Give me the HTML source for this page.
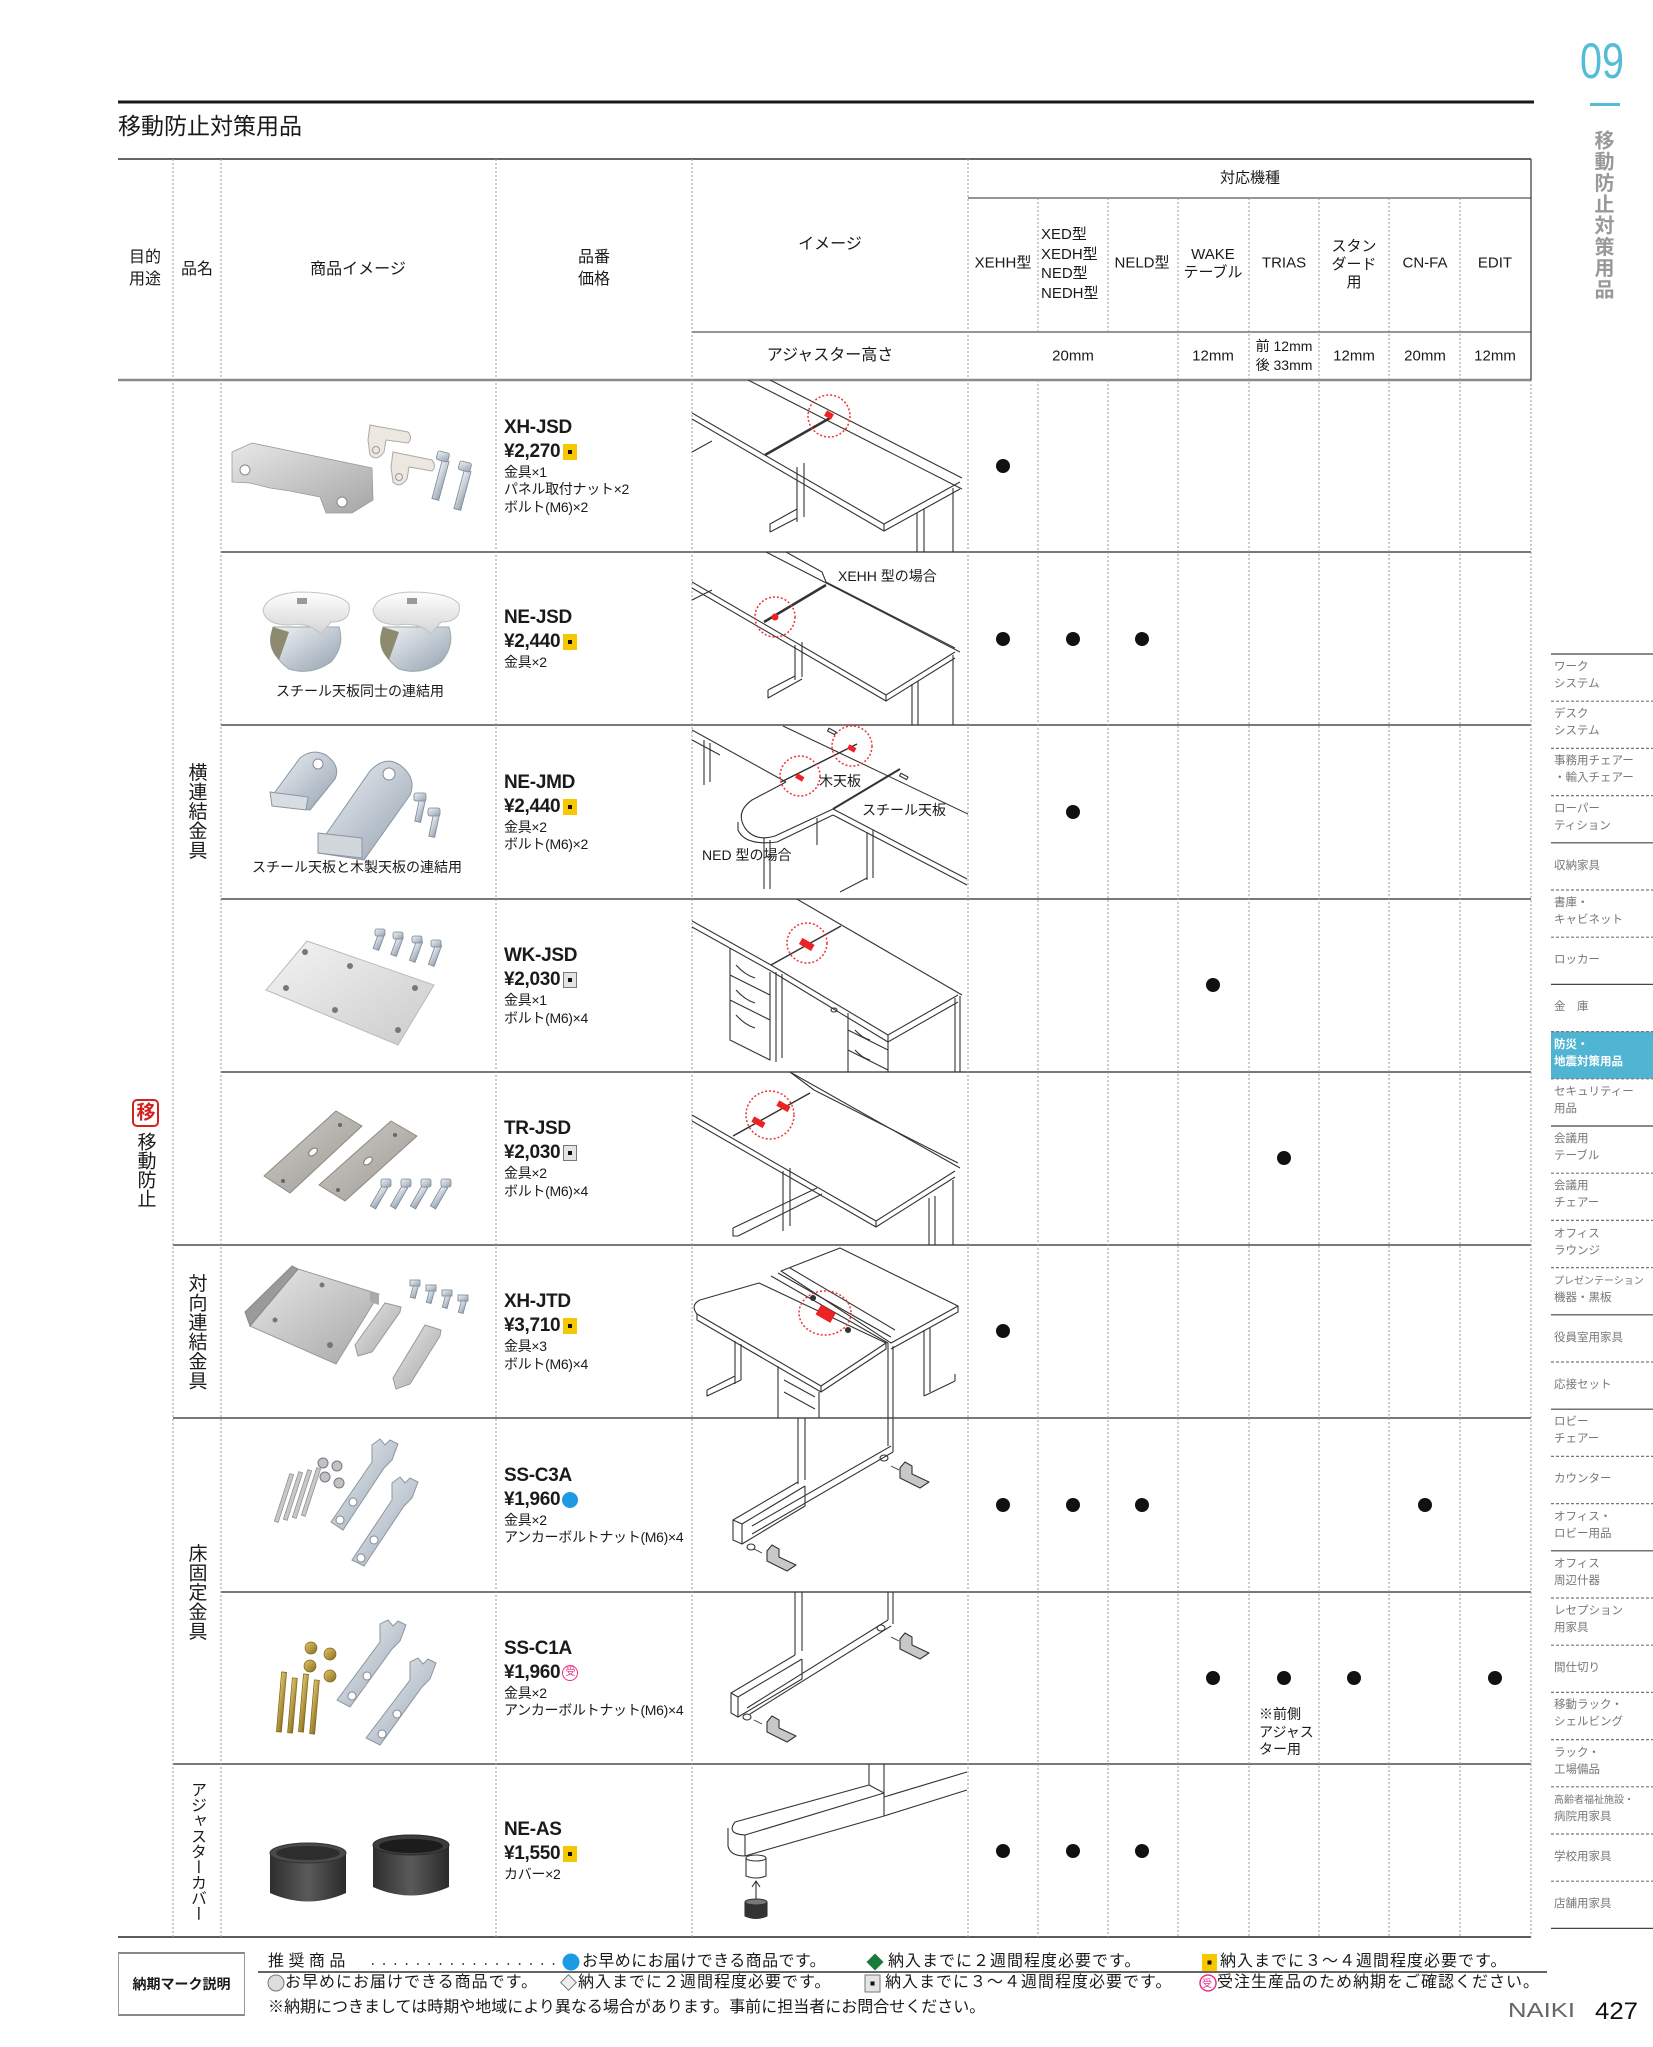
<!DOCTYPE html>
<html><head><meta charset="utf-8">
<style>
*{margin:0;padding:0;box-sizing:border-box}
body{width:1653px;height:2047px;position:relative;background:#fff;font-family:"Liberation Sans","Noto Sans CJK JP",sans-serif;color:#1a1a1a;overflow:hidden}
.a{position:absolute;white-space:nowrap;line-height:1}
.c{transform:translate(-50%,-50%);text-align:center}
.h{font-size:16px}
.k{font-size:15px}
.l{transform:translateY(-50%)}
.v{position:absolute;writing-mode:vertical-rl;transform:translate(-50%,-50%);white-space:nowrap;line-height:1}
.pb{position:absolute;left:504px;width:186px;display:flex;flex-direction:column;justify-content:center}
.code{font-weight:bold;font-size:19px;line-height:24px;letter-spacing:-0.3px}
.price{font-weight:bold;font-size:19px;line-height:24px;letter-spacing:-0.3px;display:flex;align-items:center}
.d{font-size:14px;line-height:17.5px;letter-spacing:-0.3px}
.my,.mg{display:inline-block;width:14px;height:16px;margin-left:3px;position:relative}
.my{background:#f7c800}
.mg{background:#e4e4e4;border:1px solid #777}
.my:after,.mg:after{content:"";position:absolute;left:50%;top:50%;width:4px;height:4px;margin:-2px 0 0 -2px;background:#111}
.mb{display:inline-block;width:16px;height:16px;border-radius:50%;background:#1d9be2;margin-left:2px}
.mu{display:inline-block;width:16px;height:16px;border-radius:50%;border:1.5px solid #e8318b;color:#e8318b;font-size:10px;line-height:13px;text-align:center;margin-left:2px;font-weight:normal}
.cap{font-size:14px}
.sb{position:absolute;left:1554px;font-size:11.5px;color:#777;line-height:17px;white-space:nowrap}
.ft{position:absolute;font-size:16px;line-height:16px;white-space:nowrap;color:#1a1a1a}
</style></head><body>

<svg width="1653" height="2047" style="position:absolute;left:0;top:0" xmlns="http://www.w3.org/2000/svg">
<defs>
<linearGradient id="gm" x1="0" y1="0" x2="1" y2="1"><stop offset="0" stop-color="#e8e8e8"/><stop offset="1" stop-color="#a6a6a6"/></linearGradient>
<linearGradient id="gz" x1="0" y1="0" x2="1" y2="1"><stop offset="0" stop-color="#f0f3f7"/><stop offset="1" stop-color="#95a2b0"/></linearGradient>
<linearGradient id="gw" x1="0" y1="0" x2="0" y2="1"><stop offset="0" stop-color="#ffffff"/><stop offset="1" stop-color="#d4d4d4"/></linearGradient>
<linearGradient id="gd" x1="0" y1="0" x2="1" y2="0"><stop offset="0" stop-color="#2e2e2e"/><stop offset=".5" stop-color="#5a5a5a"/><stop offset="1" stop-color="#2a2a2a"/></linearGradient>
<linearGradient id="gb" x1="0" y1="0" x2="1" y2="1"><stop offset="0" stop-color="#e2c86a"/><stop offset="1" stop-color="#8a6c1c"/></linearGradient>
<linearGradient id="gp" x1="0" y1="0" x2="1" y2="1"><stop offset="0" stop-color="#f4f4f4"/><stop offset="1" stop-color="#cbcbcb"/></linearGradient>
<linearGradient id="gt" x1="0" y1="0" x2="1" y2="1"><stop offset="0" stop-color="#d2cfca"/><stop offset="1" stop-color="#9b9792"/></linearGradient>
<clipPath id="k1"><rect x="692" y="380" width="276" height="172"/></clipPath>
<clipPath id="k2"><rect x="692" y="552" width="276" height="173"/></clipPath>
<clipPath id="k3"><rect x="692" y="725" width="276" height="174"/></clipPath>
<clipPath id="k4"><rect x="692" y="899" width="276" height="173"/></clipPath>
<clipPath id="k5"><rect x="692" y="1072" width="276" height="173"/></clipPath>
<clipPath id="k6"><rect x="692" y="1245" width="276" height="173"/></clipPath>
<clipPath id="k7"><rect x="692" y="1418" width="276" height="174"/></clipPath>
<clipPath id="k8"><rect x="692" y="1592" width="276" height="172"/></clipPath>
<clipPath id="k9"><rect x="692" y="1764" width="276" height="173"/></clipPath>
</defs>

<!-- top rule & number -->
<line x1="118" y1="102" x2="1534" y2="102" stroke="#1a1a1a" stroke-width="3"/>
<text x="1580" y="78" font-family="Liberation Sans" font-size="50" fill="#55bcd8" textLength="44" lengthAdjust="spacingAndGlyphs">09</text>
<rect x="1590" y="103" width="30" height="3" fill="#55bcd8"/>

<!-- table horizontal lines -->
<g fill="none">
<line x1="118" y1="159" x2="1531" y2="159" stroke="#333" stroke-width="1.5"/>
<line x1="968" y1="198" x2="1531" y2="198" stroke="#555" stroke-width="1.3"/>
<line x1="692" y1="332" x2="1531" y2="332" stroke="#555" stroke-width="1.3"/>
<line x1="118" y1="380" x2="1531" y2="380" stroke="#8a8a8a" stroke-width="2.5"/>
<g stroke="#666" stroke-width="1.8">
<line x1="221" y1="552" x2="1531" y2="552"/>
<line x1="221" y1="725" x2="1531" y2="725"/>
<line x1="221" y1="899" x2="1531" y2="899"/>
<line x1="221" y1="1072" x2="1531" y2="1072"/>
<line x1="173" y1="1245" x2="1531" y2="1245"/>
<line x1="173" y1="1418" x2="1531" y2="1418"/>
<line x1="221" y1="1592" x2="1531" y2="1592"/>
<line x1="173" y1="1764" x2="1531" y2="1764"/>
</g>
<line x1="118" y1="1937" x2="1531" y2="1937" stroke="#444" stroke-width="1.8"/>
<!-- vertical dotted -->
<g stroke="#9a9a9a" stroke-width="1" stroke-dasharray="2,2">
<line x1="173" y1="159" x2="173" y2="1937"/>
<line x1="221" y1="159" x2="221" y2="1937"/>
<line x1="496" y1="159" x2="496" y2="1937"/>
<line x1="692" y1="159" x2="692" y2="1937"/>
<line x1="968" y1="159" x2="968" y2="1937"/>
<line x1="1038" y1="198" x2="1038" y2="332"/><line x1="1038" y1="380" x2="1038" y2="1937"/>
<line x1="1108" y1="198" x2="1108" y2="332"/><line x1="1108" y1="380" x2="1108" y2="1937"/>
<line x1="1178" y1="198" x2="1178" y2="1937"/>
<line x1="1249" y1="198" x2="1249" y2="1937"/>
<line x1="1319" y1="198" x2="1319" y2="1937"/>
<line x1="1389" y1="198" x2="1389" y2="1937"/>
<line x1="1460" y1="198" x2="1460" y2="1937"/>
<line x1="1531" y1="380" x2="1531" y2="1937"/>
</g>
<line x1="1531" y1="159" x2="1531" y2="380" stroke="#444" stroke-width="1.3"/>
</g>

<!-- dots -->
<g fill="#111">
<circle cx="1003" cy="466" r="7"/>
<circle cx="1003" cy="639" r="7"/><circle cx="1073" cy="639" r="7"/><circle cx="1142" cy="639" r="7"/>
<circle cx="1073" cy="812" r="7"/>
<circle cx="1213" cy="985" r="7"/>
<circle cx="1284" cy="1158" r="7"/>
<circle cx="1003" cy="1331" r="7"/>
<circle cx="1003" cy="1505" r="7"/><circle cx="1073" cy="1505" r="7"/><circle cx="1142" cy="1505" r="7"/><circle cx="1425" cy="1505" r="7"/>
<circle cx="1213" cy="1678" r="7"/><circle cx="1284" cy="1678" r="7"/><circle cx="1354" cy="1678" r="7"/><circle cx="1495" cy="1678" r="7"/>
<circle cx="1003" cy="1851" r="7"/><circle cx="1073" cy="1851" r="7"/><circle cx="1142" cy="1851" r="7"/>
</g>

<!-- 移 icon -->
<rect x="133" y="1100" width="25" height="26" rx="4" fill="#fff" stroke="#d42020" stroke-width="2"/>

<!-- ===== product photos ===== -->
<!-- row1 -->
<polygon points="232,452 252,443 372,468 373,500 352,513 326,513 320,497 290,491 270,488 250,483 232,482" fill="url(#gm)" stroke="#9a9a9a" stroke-width=".8"/>
<circle cx="245" cy="470" r="5" fill="#fff" stroke="#888"/>
<circle cx="342" cy="502" r="5" fill="#fff" stroke="#888"/>
<path d="M370,425 L408,432 Q413,438 408,443 L386,440 L384,452 Q377,462 370,455 L368,440 Z" fill="#ece8e0" stroke="#aaa"/>
<circle cx="376" cy="450" r="3.5" fill="none" stroke="#999"/>
<path d="M393,452 L432,460 Q437,466 432,471 L409,467 L407,479 Q400,489 393,482 L391,467 Z" fill="#ece8e0" stroke="#aaa"/>
<circle cx="399" cy="477" r="3.5" fill="none" stroke="#999"/>
<g fill="url(#gz)" stroke="#7a8794" stroke-width=".8">
<rect x="437" y="460" width="7" height="40" transform="rotate(15 440 480)"/>
<rect x="437" y="452" width="12" height="9" rx="2" transform="rotate(15 443 456)"/>
<rect x="459" y="470" width="7" height="40" transform="rotate(15 462 490)"/>
<rect x="459" y="462" width="12" height="9" rx="2" transform="rotate(15 465 466)"/>
</g>

<!-- row2 clamps -->
<g transform="translate(259,592)">
<path d="M14,35 Q8,62 30,77 Q52,84 72,70 Q86,54 80,35 Z" fill="url(#gz)" stroke="#9aa"/>
<path d="M14,35 Q6,54 20,68 L30,40 Z" fill="#8d8a70"/>
<path d="M4,18 Q8,2 40,0 Q80,0 90,12 Q93,30 72,30 L62,42 Q50,30 30,33 Q6,33 4,18 Z" fill="url(#gw)" stroke="#c2c2c2"/>
<rect x="38" y="6" width="10" height="6" fill="#999"/>
</g>
<g transform="translate(369,592)">
<path d="M14,35 Q8,62 30,77 Q52,84 72,70 Q86,54 80,35 Z" fill="url(#gz)" stroke="#9aa"/>
<path d="M14,35 Q6,54 20,68 L30,40 Z" fill="#8d8a70"/>
<path d="M4,18 Q8,2 40,0 Q80,0 90,12 Q93,30 72,30 L62,42 Q50,30 30,33 Q6,33 4,18 Z" fill="url(#gw)" stroke="#c2c2c2"/>
<rect x="38" y="6" width="10" height="6" fill="#999"/>
</g>

<!-- row3 brackets -->
<path d="M275,792 L300,758 Q312,748 326,755 Q341,766 335,779 L310,810 L272,805 Z" fill="url(#gz)" stroke="#8a96a2"/>
<circle cx="318" cy="764" r="5" fill="#fff" stroke="#889"/>
<path d="M270,792 L308,797 L306,810 L272,806 Z" fill="#d8dde2" stroke="#8a96a2"/>
<path d="M322,840 L370,771 Q385,755 400,765 Q417,778 410,795 L364,860 L318,853 Z" fill="url(#gz)" stroke="#8a96a2"/>
<circle cx="389" cy="774" r="6" fill="#fff" stroke="#889"/>
<path d="M318,833 L362,838 L362,858 L318,853 Z" fill="#d2d7dc" stroke="#8a96a2"/>
<g fill="url(#gz)" stroke="#7a8794" stroke-width=".8">
<rect x="417" y="800" width="6" height="22" transform="rotate(12 420 811)"/>
<rect x="414" y="793" width="12" height="8" rx="2"/>
<rect x="431" y="815" width="6" height="22" transform="rotate(12 434 826)"/>
<rect x="428" y="808" width="12" height="8" rx="2"/>
</g>

<!-- row4 plate -->
<polygon points="307,941 434,985 398,1045 266,990" fill="url(#gp)" stroke="#bbb"/>
<g fill="#777"><circle cx="305" cy="952" r="3"/><circle cx="350" cy="966" r="3"/><circle cx="415" cy="988" r="3"/><circle cx="286" cy="988" r="3"/><circle cx="335" cy="1010" r="3"/><circle cx="398" cy="1030" r="3"/></g>
<g fill="url(#gz)" stroke="#7a8794" stroke-width=".8">
<rect x="376" y="932" width="6" height="18" transform="rotate(20 379 941)"/><rect x="375" y="929" width="10" height="7" rx="2"/>
<rect x="394" y="936" width="6" height="20" transform="rotate(20 397 946)"/><rect x="393" y="932" width="10" height="7" rx="2"/>
<rect x="413" y="940" width="6" height="22" transform="rotate(20 416 951)"/><rect x="412" y="936" width="10" height="7" rx="2"/>
<rect x="432" y="944" width="6" height="22" transform="rotate(20 435 955)"/><rect x="431" y="940" width="10" height="7" rx="2"/>
</g>

<!-- row5 plates -->
<polygon points="336,1111 362,1126 290,1193 264,1176" fill="url(#gt)" stroke="#8c8882" stroke-linejoin="round"/>
<polygon points="391,1121 417,1136 345,1201 319,1185" fill="url(#gt)" stroke="#8c8882" stroke-linejoin="round"/>
<g fill="#fff" stroke="#777"><ellipse cx="313" cy="1152" rx="5" ry="3" transform="rotate(-40 313 1152)"/><ellipse cx="368" cy="1161" rx="5" ry="3" transform="rotate(-40 368 1161)"/></g>
<g fill="#666"><circle cx="340" cy="1125" r="2"/><circle cx="283" cy="1181" r="2"/><circle cx="395" cy="1135" r="2"/><circle cx="338" cy="1190" r="2"/></g>
<g fill="url(#gz)" stroke="#7a8794" stroke-width=".8">
<rect x="376" y="1185" width="6" height="24" transform="rotate(30 379 1197)"/><rect x="381" y="1179" width="10" height="8" rx="2"/>
<rect x="396" y="1185" width="6" height="24" transform="rotate(30 399 1197)"/><rect x="401" y="1179" width="10" height="8" rx="2"/>
<rect x="416" y="1185" width="6" height="24" transform="rotate(30 419 1197)"/><rect x="421" y="1179" width="10" height="8" rx="2"/>
<rect x="436" y="1185" width="6" height="24" transform="rotate(30 439 1197)"/><rect x="441" y="1179" width="10" height="8" rx="2"/>
</g>

<!-- row6 -->
<polygon points="250,1326 298,1269 379,1294 336,1364" fill="url(#gm)" stroke="#999"/>
<polygon points="245,1312 292,1266 298,1269 250,1326" fill="#9a9a9a" stroke="#888"/>
<polygon points="370,1291 379,1294 379,1305 370,1302" fill="#aaa"/>
<g fill="#777"><circle cx="275" cy="1320" r="2.5"/><circle cx="322" cy="1285" r="2.5"/><circle cx="330" cy="1345" r="3"/></g>
<polygon points="355,1345 385,1303 401,1307 400,1312 372,1352 358,1356" fill="url(#gm)" stroke="#999"/>
<polygon points="393,1378 425,1325 441,1330 440,1336 410,1384 396,1389" fill="url(#gm)" stroke="#999"/>
<g fill="url(#gz)" stroke="#7a8794" stroke-width=".8">
<rect x="412" y="1284" width="5" height="14" transform="rotate(15 414 1291)"/><rect x="410" y="1280" width="10" height="6"/>
<rect x="428" y="1289" width="5" height="14" transform="rotate(15 430 1296)"/><rect x="426" y="1285" width="10" height="6"/>
<rect x="444" y="1294" width="5" height="14" transform="rotate(15 446 1301)"/><rect x="442" y="1290" width="10" height="6"/>
<rect x="460" y="1299" width="5" height="14" transform="rotate(15 462 1306)"/><rect x="458" y="1295" width="10" height="6"/>
</g>

<!-- row7 -->
<g fill="#c7c9c9" stroke="#888" stroke-width=".7">
<rect x="282" y="1473" width="4" height="50" transform="rotate(18 284 1498)"/>
<rect x="291" y="1471" width="4" height="50" transform="rotate(18 293 1496)"/>
<rect x="300" y="1469" width="4" height="50" transform="rotate(18 302 1494)"/>
<rect x="309" y="1467" width="4" height="50" transform="rotate(18 311 1492)"/>
</g>
<g fill="#bfc3c7" stroke="#777"><circle cx="323" cy="1463" r="5"/><circle cx="337" cy="1466" r="5"/><circle cx="325" cy="1477" r="5"/><circle cx="339" cy="1483" r="5"/></g>
<path d="M331,1522 L372,1462 L372,1445 L380,1439 L385,1445 L390,1440 L398,1444 L392,1460 L384,1468 L343,1530 Z" fill="url(#gz)" stroke="#8a96a2"/>
<path d="M352,1560 L392,1500 L392,1483 L400,1477 L405,1483 L410,1478 L418,1482 L412,1498 L404,1506 L364,1566 Z" fill="url(#gz)" stroke="#8a96a2"/>
<g fill="#fff" stroke="#889"><circle cx="353" cy="1502" r="4"/><circle cx="340" cy="1520" r="4"/><circle cx="374" cy="1540" r="4"/><circle cx="361" cy="1558" r="4"/></g>

<!-- row8 -->
<g fill="url(#gb)" stroke="#7a6420" stroke-width=".7">
<rect x="279" y="1672" width="5" height="60" transform="rotate(5 281 1702)"/>
<rect x="290" y="1678" width="5" height="55" transform="rotate(5 292 1705)"/>
<rect x="301" y="1674" width="5" height="58" transform="rotate(5 303 1703)"/>
<rect x="312" y="1680" width="5" height="54" transform="rotate(5 314 1707)"/>
<circle cx="311" cy="1648" r="6"/><circle cx="330" cy="1654" r="6"/><circle cx="310" cy="1666" r="6"/><circle cx="330" cy="1676" r="6"/>
</g>
<path d="M337,1700 L380,1642 L380,1624 L388,1620 L393,1626 L398,1621 L406,1625 L400,1641 L392,1649 L350,1707 Z" fill="url(#gz)" stroke="#8a96a2"/>
<path d="M366,1738 L410,1680 L410,1662 L418,1658 L423,1664 L428,1659 L436,1663 L430,1679 L422,1687 L380,1745 Z" fill="url(#gz)" stroke="#8a96a2"/>
<g fill="#fff" stroke="#889"><circle cx="367" cy="1676" r="4"/><circle cx="352" cy="1696" r="4"/><circle cx="397" cy="1714" r="4"/><circle cx="382" cy="1734" r="4"/></g>

<!-- row9 caps -->
<path d="M270,1853 L270,1893 Q308,1910 346,1893 L346,1853 Z" fill="url(#gd)"/>
<ellipse cx="308" cy="1853" rx="38" ry="10" fill="#4a4a4a" stroke="#333"/>
<ellipse cx="308" cy="1853" rx="32" ry="7" fill="#2d2d2d"/>
<path d="M373,1845 L373,1887 Q411,1904 449,1887 L449,1845 Z" fill="url(#gd)"/>
<ellipse cx="411" cy="1845" rx="38" ry="10" fill="#3d3d3d" stroke="#2a2a2a"/>
<ellipse cx="411" cy="1846" rx="32" ry="7" fill="#1c1c1c"/>

<!-- ===== line drawings ===== -->
<g fill="none" stroke="#333" stroke-width="1.1" stroke-linejoin="round">
<g clip-path="url(#k1)">
<path d="M748,380 L962,489"/><path d="M770,380 L962,478"/>
<path d="M692,413 L884,524 L960,482"/><path d="M692,419 L884,531 L960,489"/><path d="M884,524 L884,531"/>
<path d="M765,455 L830,418" stroke-width="2.5"/>
<path d="M692,452 L712,441"/>
<path d="M797,467 L797,522 M804,463 L804,517 M770,532 L797,518 M770,532 L770,524 L797,509"/>
<path d="M917,513 L917,552 M924,509 L924,552 M953,488 L953,552"/>
<circle cx="829" cy="416" r="21" stroke="#e33" stroke-dasharray="2,2" stroke-width="1.5"/>
<rect x="825" y="412" width="8" height="6" fill="#e22" stroke="none" transform="rotate(30 829 415)"/>
</g>
<g clip-path="url(#k2)">
<path d="M766,552 L960,652"/><path d="M786,552 L822,572 L826,582 L955,648"/>
<path d="M692,582 L886,695 L955,652"/><path d="M692,588 L886,701 L955,658"/><path d="M886,695 L886,701"/>
<path d="M764,622 L826,585" stroke-width="2.5"/>
<path d="M692,600 L712,590"/>
<path d="M795,645 L795,680 M802,642 L802,677 M768,690 L795,676 M768,690 L768,698 L802,679"/>
<path d="M912,684 L912,725 M918,681 L918,725 M953,655 L953,725"/>
<circle cx="775" cy="617" r="20" stroke="#e33" stroke-dasharray="2,2" stroke-width="1.5"/>
<circle cx="775" cy="617" r="3.5" fill="#e22" stroke="none"/>
</g>
<g clip-path="url(#k3)">
<path d="M692,730 L786,782"/><path d="M692,740 L720,755"/>
<path d="M783,726 L970,815"/>
<path d="M781,782 L857,744" stroke-width="1.5"/>
<path d="M833,809 L900,769" stroke-width="2"/>
<path d="M833,809 L967,879"/><path d="M833,815 L967,885"/>
<path d="M786,782 L752,800 Q735,812 745,828 Q755,842 775,836 L833,809" fill="#fff"/>
<path d="M738,822 L738,830 Q745,846 777,842 L833,815"/>
<path d="M704,740 L704,785 M710,743 L710,782"/>
<path d="M764,838 L764,889 M770,840 L770,889 M817,818 L817,845 M867,832 L867,880 M873,830 L873,878 M840,892 L867,878"/>
<rect x="828" y="730" width="8" height="3" transform="rotate(28 832 731)"/>
<rect x="900" y="775" width="8" height="3" transform="rotate(28 904 776)"/>
<circle cx="800" cy="776" r="20" stroke="#e33" stroke-dasharray="2,2" stroke-width="1.5"/>
<circle cx="852" cy="746" r="20" stroke="#e33" stroke-dasharray="2,2" stroke-width="1.5"/>
<rect x="796" y="775" width="8" height="5" fill="#e22" stroke="none" transform="rotate(30 800 777)"/>
<rect x="848" y="746" width="8" height="5" fill="#e22" stroke="none" transform="rotate(30 852 748)"/>
</g>
<g clip-path="url(#k4)">
<path d="M795,898 L962,995"/>
<path d="M771,965 L888,1035 L958,995"/><path d="M888,1035 L888,1042 L958,1002"/>
<path d="M692,921 L771,965 M692,927 L771,971 L888,1042"/>
<path d="M771,965 L841,926" stroke-width="1.5"/>
<path d="M730,948 L730,1040 L770,1060 L770,972 M730,975 L770,995 M730,1000 L770,1020"/>
<path d="M736,965 Q745,975 755,978 M736,990 Q745,1000 755,1003 M736,1015 Q745,1025 755,1028"/>
<path d="M776,972 L776,1062 M782,974 L782,1058"/>
<path d="M848,1013 L848,1072 M888,1042 L888,1072 M848,1030 L888,1050 M848,1050 L888,1070"/>
<path d="M855,1030 Q862,1038 870,1040 M855,1050 Q862,1058 870,1060"/>
<path d="M955,998 L955,1072 M960,996 L960,1072"/>
<ellipse cx="834" cy="1010" rx="3" ry="2"/>
<circle cx="807" cy="943" r="20" stroke="#e33" stroke-dasharray="2,2" stroke-width="1.5"/>
<rect x="800" y="941" width="14" height="7" fill="#e22" stroke="none" transform="rotate(30 807 944)"/>
</g>
<g clip-path="url(#k5)">
<path d="M790,1072 L960,1168"/><path d="M814,1090 L958,1163"/><path d="M790,1072 L814,1090"/>
<path d="M692,1115 L876,1221 L955,1171"/><path d="M692,1121 L876,1227 L955,1177"/><path d="M876,1221 L876,1227"/>
<path d="M733,1136 L810,1093" stroke-width="1.5"/>
<path d="M783,1171 L783,1231 M790,1168 L790,1226 M733,1228 L817,1188 M738,1236 L822,1194 M733,1228 L733,1236 L738,1236"/>
<path d="M929,1198 L929,1245 M935,1196 L935,1245 M953,1180 L953,1245"/>
<circle cx="770" cy="1115" r="24" stroke="#e33" stroke-dasharray="2,2" stroke-width="1.5"/>
<rect x="752" y="1119" width="13" height="6" fill="#e22" stroke="none" transform="rotate(30 758 1122)"/>
<rect x="777" y="1103" width="13" height="6" fill="#e22" stroke="none" transform="rotate(30 783 1106)"/>
</g>
<g clip-path="url(#k6)">
<path d="M697,1314 Q690,1305 700,1300 L759,1283 L886,1343 L821,1386 Z" fill="#fff"/>
<path d="M697,1314 L697,1320 L821,1392 L821,1386 M821,1392 L886,1349 L886,1343"/>
<path d="M781,1271 L840,1248 L958,1306 L891,1343 Z" fill="#fff"/>
<path d="M958,1306 L958,1312 L891,1349"/>
<path d="M771,1276 L888,1343 M778,1273 L891,1337 M790,1268 L895,1330"/>
<circle cx="813" cy="1298" r="2.5" fill="#333"/><circle cx="848" cy="1330" r="2.5" fill="#333"/>
<path d="M735,1341 L735,1384 M741,1344 L741,1380 M707,1390 L735,1376 M707,1390 L707,1396 L741,1380"/>
<path d="M778,1366 L778,1418 M819,1392 L819,1418 M784,1380 L815,1397 M784,1392 L815,1409"/>
<path d="M888,1343 L888,1418 M893,1346 L893,1418"/>
<path d="M924,1330 L924,1396 M930,1327 L930,1392 M924,1396 L955,1381 M955,1381 L955,1374"/>
<ellipse cx="825" cy="1313" rx="26" ry="22" stroke="#e33" stroke-dasharray="2,2" stroke-width="1.5"/>
<rect x="817" y="1308" width="17" height="11" fill="#e22" stroke="none" transform="rotate(30 825 1314)"/>
</g>
<g clip-path="url(#k7)">
<path d="M798,1418 L798,1484 M805,1418 L805,1480"/>
<path d="M798,1482 L733,1520 L742,1524 L805,1486 M733,1520 L733,1540 L742,1544 L742,1524 M742,1544 L805,1506 L805,1486"/>
<path d="M891,1446 L752,1526 M893,1452 L752,1534"/>
<path d="M888,1418 L888,1446 M893,1418 L893,1452"/>
<ellipse cx="884" cy="1458" rx="4" ry="3"/><ellipse cx="751" cy="1547" rx="4" ry="3"/>
<path d="M905,1462 L912,1466 L912,1474 L929,1482 L920,1488 L900,1478 L900,1468 Z" fill="#c8c8c8"/>
<path d="M772,1545 L779,1549 L779,1557 L796,1565 L787,1571 L767,1561 L767,1551 Z" fill="#c8c8c8"/>
<path d="M899,1470 L891,1466 M762,1553 L754,1549" stroke-width=".9"/>
</g>
<g clip-path="url(#k8)">
<path d="M795,1592 L795,1655 M802,1592 L802,1651"/>
<path d="M795,1655 L731,1693 L738,1697 L802,1659 M731,1693 L731,1713 L738,1717 L738,1697 M738,1717 L802,1679 L802,1659"/>
<path d="M888,1620 L747,1708 M891,1626 L750,1714"/>
<path d="M888,1592 L888,1620 M893,1592 L893,1624"/>
<ellipse cx="881" cy="1628" rx="4" ry="3"/><ellipse cx="747" cy="1717" rx="4" ry="3"/>
<path d="M905,1633 L912,1637 L912,1645 L929,1653 L920,1659 L900,1649 L900,1639 Z" fill="#c8c8c8"/>
<path d="M772,1716 L779,1720 L779,1728 L796,1736 L787,1742 L767,1732 L767,1722 Z" fill="#c8c8c8"/>
<path d="M899,1641 L891,1637 M762,1724 L754,1720" stroke-width=".9"/>
</g>
<g clip-path="url(#k9)">
<path d="M869,1764 L869,1788 M884,1764 L884,1795"/>
<path d="M735,1822 L869,1785 L884,1793 L745,1835 Q726,1834 735,1822 Z" fill="#fff"/>
<path d="M745,1835 L745,1856 L884,1816 L884,1793 M728,1828 L728,1846 Q730,1856 745,1856"/>
<path d="M884,1816 L967,1790 M884,1797 L967,1772"/>
<path d="M746,1858 L746,1876 Q756,1880 766,1876 L766,1858"/><ellipse cx="756" cy="1858" rx="10" ry="3"/>
<path d="M756,1900 L756,1882 M752,1887 L756,1881 L760,1887"/>
<path d="M745,1902 L745,1916 Q756,1921 767,1916 L767,1902 Z" fill="#333"/><ellipse cx="756" cy="1902" rx="11" ry="3" fill="#777"/>
</g>
</g>

<!-- sidebar lines -->
<g stroke-width="1.2">
<rect x="1551" y="1031.6" width="102" height="47.2" fill="#4fb5d2"/>
<g stroke="#444">
<line x1="1551" y1="654" x2="1653" y2="654"/>
<line x1="1551" y1="842.8" x2="1653" y2="842.8"/>
<line x1="1551" y1="984.4" x2="1653" y2="984.4"/>
<line x1="1551" y1="1126" x2="1653" y2="1126"/>
<line x1="1551" y1="1314.8" x2="1653" y2="1314.8"/>
<line x1="1551" y1="1409.2" x2="1653" y2="1409.2"/>
<line x1="1551" y1="1550.8" x2="1653" y2="1550.8"/>
<line x1="1551" y1="1928.4" x2="1653" y2="1928.4"/>
</g>
<g stroke="#777" stroke-dasharray="3,2">
<line x1="1551" y1="701.2" x2="1653" y2="701.2"/>
<line x1="1551" y1="748.4" x2="1653" y2="748.4"/>
<line x1="1551" y1="795.6" x2="1653" y2="795.6"/>
<line x1="1551" y1="890" x2="1653" y2="890"/>
<line x1="1551" y1="937.2" x2="1653" y2="937.2"/>
<line x1="1551" y1="1031.6" x2="1653" y2="1031.6"/>
<line x1="1551" y1="1078.8" x2="1653" y2="1078.8"/>
<line x1="1551" y1="1173.2" x2="1653" y2="1173.2"/>
<line x1="1551" y1="1220.4" x2="1653" y2="1220.4"/>
<line x1="1551" y1="1267.6" x2="1653" y2="1267.6"/>
<line x1="1551" y1="1362" x2="1653" y2="1362"/>
<line x1="1551" y1="1456.4" x2="1653" y2="1456.4"/>
<line x1="1551" y1="1503.6" x2="1653" y2="1503.6"/>
<line x1="1551" y1="1598" x2="1653" y2="1598"/>
<line x1="1551" y1="1645.2" x2="1653" y2="1645.2"/>
<line x1="1551" y1="1692.4" x2="1653" y2="1692.4"/>
<line x1="1551" y1="1739.6" x2="1653" y2="1739.6"/>
<line x1="1551" y1="1786.8" x2="1653" y2="1786.8"/>
<line x1="1551" y1="1834" x2="1653" y2="1834"/>
<line x1="1551" y1="1881.2" x2="1653" y2="1881.2"/>
</g>
</g>

<!-- footer graphics -->
<line x1="258" y1="1972" x2="1547" y2="1972" stroke="#333" stroke-width="1.5"/>
<line x1="372" y1="1964" x2="556" y2="1964" stroke="#444" stroke-width="2" stroke-dasharray="1.5,9.8"/>
<circle cx="571" cy="1962" r="8.5" fill="#1d9be2"/>
<rect x="869" y="1956" width="12" height="12" fill="#1a7a3a" transform="rotate(45 875 1962)"/>
<rect x="1202" y="1954" width="15" height="17" fill="#f7c800"/><rect x="1207.5" y="1960.5" width="4" height="4" fill="#111"/>
<circle cx="276" cy="1983" r="8" fill="#ddd" stroke="#777"/>
<rect x="563" y="1977" width="11" height="11" fill="#eee" stroke="#777" transform="rotate(45 568.5 1982.5)"/>
<rect x="865" y="1975" width="15" height="17" fill="#e4e4e4" stroke="#777"/><rect x="870.5" y="1981.5" width="4" height="4" fill="#111"/>
<circle cx="1208" cy="1983" r="8" fill="#fff" stroke="#e8318b" stroke-width="1.5"/>
<text x="1508" y="2017" font-family="Liberation Sans" font-size="20" fill="#666" textLength="67" lengthAdjust="spacingAndGlyphs">NAIKI</text>
<text x="1595" y="2019" font-family="Liberation Sans" font-size="24" fill="#111" textLength="43" lengthAdjust="spacingAndGlyphs">427</text>
</svg>

<!-- title -->
<div class="a" style="left:118px;top:115px;font-size:23px">移動防止対策用品</div>
<div class="v" style="left:1602px;top:215px;font-size:20px;letter-spacing:1.3px;color:#999;font-weight:bold">移動防止対策用品</div>

<!-- header -->
<div class="a c h" style="left:145px;top:269px;line-height:22px">目的<br>用途</div>
<div class="a c h" style="left:197px;top:270px">品名</div>
<div class="a c h" style="left:358px;top:270px">商品イメージ</div>
<div class="a c h" style="left:594px;top:269px;line-height:22px">品番<br>価格</div>
<div class="a c h" style="left:830px;top:245px">イメージ</div>
<div class="a c k" style="left:1250px;top:178px">対応機種</div>
<div class="a c k" style="left:1003px;top:263px">XEHH型</div>
<div class="a k" style="left:1041px;top:225px;line-height:19.7px">XED型<br>XEDH型<br>NED型<br>NEDH型</div>
<div class="a c k" style="left:1142px;top:263px">NELD型</div>
<div class="a c k" style="left:1213px;top:264px;line-height:18px">WAKE<br>テーブル</div>
<div class="a c k" style="left:1284px;top:263px">TRIAS</div>
<div class="a c k" style="left:1354px;top:265px;line-height:18px">スタン<br>ダード<br>用</div>
<div class="a c k" style="left:1425px;top:263px">CN-FA</div>
<div class="a c k" style="left:1495px;top:263px">EDIT</div>
<div class="a c h" style="left:830px;top:356px">アジャスター高さ</div>
<div class="a c k" style="left:1073px;top:356px">20mm</div>
<div class="a c k" style="left:1213px;top:356px">12mm</div>
<div class="a c" style="left:1284px;top:356px;font-size:14px;line-height:19px;text-align:left">前 12mm<br>後 33mm</div>
<div class="a c k" style="left:1354px;top:356px">12mm</div>
<div class="a c k" style="left:1425px;top:356px">20mm</div>
<div class="a c k" style="left:1495px;top:356px">12mm</div>

<!-- left vertical labels -->
<div class="a c" style="left:146px;top:1113px;font-size:19px;color:#d42020;font-weight:bold">移</div>
<div class="v" style="left:145px;top:1170px;font-size:19px">移動防止</div>
<div class="v" style="left:196px;top:811px;font-size:19px;letter-spacing:0.5px">横連結金具</div>
<div class="v" style="left:196px;top:1332px;font-size:19px;letter-spacing:0.5px">対向連結金具</div>
<div class="v" style="left:196px;top:1592px;font-size:19px;letter-spacing:0.5px">床固定金具</div>
<div class="v" style="left:196px;top:1851px;font-size:16px;letter-spacing:-0.5px">アジャスターカバー</div>

<!-- product blocks -->
<div class="pb" style="top:380px;height:172px"><div class="code">XH-JSD</div><div class="price">¥2,270<span class="my"></span></div><div class="d">金具×1<br>パネル取付ナット×2<br>ボルト(M6)×2</div></div>
<div class="pb" style="top:552px;height:173px"><div class="code">NE-JSD</div><div class="price">¥2,440<span class="my"></span></div><div class="d">金具×2</div></div>
<div class="pb" style="top:725px;height:174px"><div class="code">NE-JMD</div><div class="price">¥2,440<span class="my"></span></div><div class="d">金具×2<br>ボルト(M6)×2</div></div>
<div class="pb" style="top:899px;height:173px"><div class="code">WK-JSD</div><div class="price">¥2,030<span class="mg"></span></div><div class="d">金具×1<br>ボルト(M6)×4</div></div>
<div class="pb" style="top:1072px;height:173px"><div class="code">TR-JSD</div><div class="price">¥2,030<span class="mg"></span></div><div class="d">金具×2<br>ボルト(M6)×4</div></div>
<div class="pb" style="top:1245px;height:173px"><div class="code">XH-JTD</div><div class="price">¥3,710<span class="my"></span></div><div class="d">金具×3<br>ボルト(M6)×4</div></div>
<div class="pb" style="top:1418px;height:174px"><div class="code">SS-C3A</div><div class="price">¥1,960<span class="mb"></span></div><div class="d">金具×2<br>アンカーボルトナット(M6)×4</div></div>
<div class="pb" style="top:1592px;height:172px"><div class="code">SS-C1A</div><div class="price">¥1,960<span class="mu">受</span></div><div class="d">金具×2<br>アンカーボルトナット(M6)×4</div></div>
<div class="pb" style="top:1764px;height:173px"><div class="code">NE-AS</div><div class="price">¥1,550<span class="my"></span></div><div class="d">カバー×2</div></div>

<!-- captions -->
<div class="a c cap" style="left:360px;top:691px">スチール天板同士の連結用</div>
<div class="a c cap" style="left:357px;top:867px">スチール天板と木製天板の連結用</div>
<div class="a l cap" style="left:838px;top:576px">XEHH 型の場合</div>
<div class="a l cap" style="left:819px;top:781px">木天板</div>
<div class="a l cap" style="left:862px;top:810px">スチール天板</div>
<div class="a l cap" style="left:702px;top:855px">NED 型の場合</div>
<div class="a" style="left:1259px;top:1706px;font-size:14px;line-height:17.5px">※前側<br>アジャス<br>ター用</div>

<!-- sidebar text -->
<div class="sb" style="top:659px">ワーク<br>システム</div>
<div class="sb" style="top:706px">デスク<br>システム</div>
<div class="sb" style="top:753px">事務用チェアー<br>・輸入チェアー</div>
<div class="sb" style="top:801px">ローパー<br>ティション</div>
<div class="sb" style="top:858px">収納家具</div>
<div class="sb" style="top:895px">書庫・<br>キャビネット</div>
<div class="sb" style="top:952px">ロッカー</div>
<div class="sb" style="top:999px">金　庫</div>
<div class="sb" style="top:1037px;color:#fff;font-weight:bold">防災・<br>地震対策用品</div>
<div class="sb" style="top:1084px">セキュリティー<br>用品</div>
<div class="sb" style="top:1131px">会議用<br>テーブル</div>
<div class="sb" style="top:1178px">会議用<br>チェアー</div>
<div class="sb" style="top:1226px">オフィス<br>ラウンジ</div>
<div class="sb" style="top:1273px;font-size:10px">プレゼンテーション<br><span style="font-size:11.5px">機器・黒板</span></div>
<div class="sb" style="top:1330px">役員室用家具</div>
<div class="sb" style="top:1377px">応接セット</div>
<div class="sb" style="top:1414px">ロビー<br>チェアー</div>
<div class="sb" style="top:1471px">カウンター</div>
<div class="sb" style="top:1509px">オフィス・<br>ロビー用品</div>
<div class="sb" style="top:1556px">オフィス<br>周辺什器</div>
<div class="sb" style="top:1603px">レセプション<br>用家具</div>
<div class="sb" style="top:1660px">間仕切り</div>
<div class="sb" style="top:1697px">移動ラック・<br>シェルビング</div>
<div class="sb" style="top:1745px">ラック・<br>工場備品</div>
<div class="sb" style="top:1792px;font-size:10px">高齢者福祉施設・<br><span style="font-size:11.5px">病院用家具</span></div>
<div class="sb" style="top:1849px">学校用家具</div>
<div class="sb" style="top:1896px">店舗用家具</div>

<!-- footer -->
<div style="position:absolute;left:118px;top:1952px;width:127px;height:64px;border:1px solid #999;border-top:2px solid #888;border-bottom:2px solid #888;display:flex;align-items:center;justify-content:center;font-size:14px;font-weight:bold">納期マーク説明</div>
<div class="ft" style="left:268px;top:1954px">推 奨 商 品</div>
<div class="ft" style="left:582px;top:1954px;letter-spacing:0.4px">お早めにお届けできる商品です。</div>
<div class="ft" style="left:888px;top:1954px;letter-spacing:1px">納入までに２週間程度必要です。</div>
<div class="ft" style="left:1220px;top:1954px;letter-spacing:1px">納入までに３～４週間程度必要です。</div>
<div class="ft" style="left:285px;top:1975px;letter-spacing:1px">お早めにお届けできる商品です。</div>
<div class="ft" style="left:578px;top:1975px;letter-spacing:1px">納入までに２週間程度必要です。</div>
<div class="ft" style="left:885px;top:1975px;letter-spacing:1px">納入までに３～４週間程度必要です。</div>
<div class="ft" style="left:1202px;top:1977px;font-size:10px;color:#e8318b">受</div>
<div class="ft" style="left:1217px;top:1975px;letter-spacing:1px">受注生産品のため納期をご確認ください。</div>
<div class="ft" style="left:268px;top:2000px">※納期につきましては時期や地域により異なる場合があります。事前に担当者にお問合せください。</div>
</body></html>
